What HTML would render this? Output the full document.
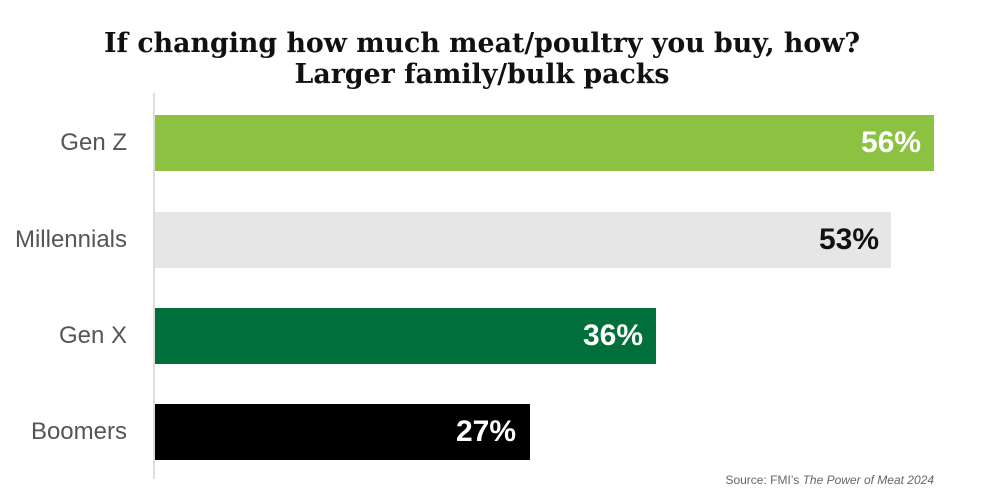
<!DOCTYPE html>
<html><head><style>
body{margin:0;width:1000px;height:500px;background:#fff;position:relative;overflow:hidden;font-family:"Liberation Sans",sans-serif}
.t{position:absolute;left:0;width:964px;text-align:center;font-family:"DejaVu Serif",serif;font-weight:bold;font-size:26.8px;color:#111;line-height:30px}
.ax{position:absolute;left:153px;top:93px;width:2px;height:386px;background:#ddd}
.lab{position:absolute;right:873px;font-size:24px;color:#555;line-height:56px}
.bar{position:absolute;left:155px;height:56px}
.v{position:absolute;font-weight:bold;font-size:30px;line-height:56px;text-align:right}
.src{position:absolute;right:66px;top:473px;font-size:12px;color:#666}
</style></head><body>
<div class="t" style="top:29px">If changing how much meat/poultry you buy, how?</div>
<div class="t" style="top:60px">Larger family/bulk packs</div>
<div class="ax"></div>
<div class="lab" style="top:115px">Gen Z</div>
<div class="lab" style="top:212px">Millennials</div>
<div class="lab" style="top:308px">Gen X</div>
<div class="lab" style="top:404px">Boomers</div>
<div class="bar" style="top:115px;width:779px;background:#8cc142"></div>
<div class="bar" style="top:212px;width:736px;background:#e6e6e6"></div>
<div class="bar" style="top:308px;width:501px;background:#006f3c"></div>
<div class="bar" style="top:404px;width:375px;background:#000"></div>
<div class="v" style="top:115px;right:79px;color:#fff">56%</div>
<div class="v" style="top:212px;right:121px;color:#111">53%</div>
<div class="v" style="top:308px;right:357px;color:#fff">36%</div>
<div class="v" style="top:404px;right:484px;color:#fff">27%</div>
<div class="src">Source: FMI’s <i>The Power of Meat 2024</i></div>
</body></html>
